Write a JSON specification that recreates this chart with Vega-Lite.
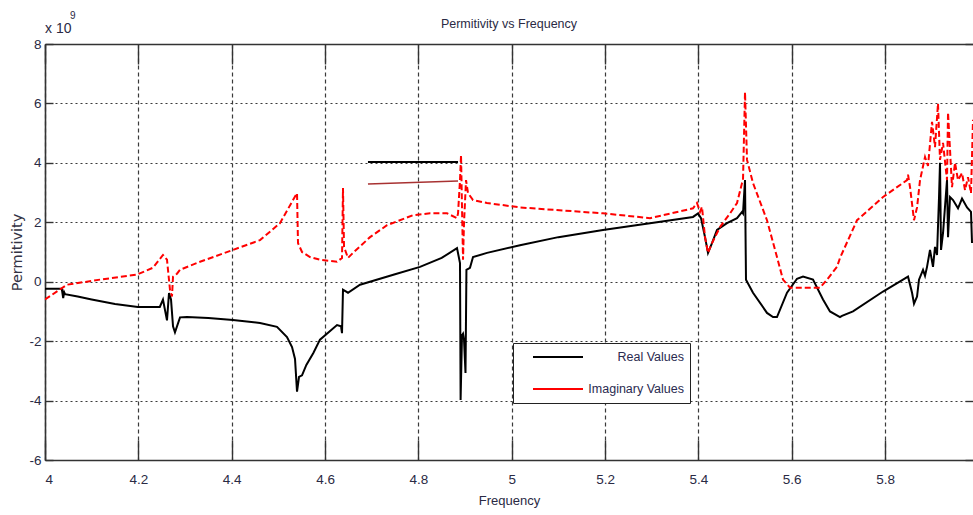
{
  "$schema": "https://vega.github.io/schema/vega-lite/v6.json",
  "width": 928,
  "height": 416,
  "autosize": {"type": "none"},
  "padding": {"left": 45, "top": 44, "right": 0, "bottom": 55},
  "background": "white",
  "title": {"text": "Permitivity vs Frequency", "anchor": "middle", "fontSize": 12.5, "font": "Liberation Sans", "fontWeight": "normal", "color": "#2a2a44", "offset": -19},
  "config": {
    "view": {"stroke": null},
    "font": "Liberation Sans",
    "axis": {
      "domainColor": "#333333", "domainWidth": 1.6, "tickColor": "#333333", "tickWidth": 1.4,
      "gridColor": "#3a3a3a", "gridOpacity": 1, "gridWidth": 1.2,
      "labelFont": "Liberation Sans",
      "labelFontSize": 13.5, "labelColor": "#2a2a44",
      "titleFont": "Liberation Sans",
      "titleFontSize": 13, "titleFontWeight": "normal", "titleColor": "#2a2a44"
    }
  },
  "datasets": {
    "perm": [
      {"f": 4.000, "v": -0.24, "s": "Real Values"},
      {"f": 4.036, "v": -0.24, "s": "Real Values"},
      {"f": 4.039, "v": -0.55, "s": "Real Values"},
      {"f": 4.041, "v": -0.35, "s": "Real Values"},
      {"f": 4.043, "v": -0.42, "s": "Real Values"},
      {"f": 4.070, "v": -0.5, "s": "Real Values"},
      {"f": 4.100, "v": -0.6, "s": "Real Values"},
      {"f": 4.150, "v": -0.75, "s": "Real Values"},
      {"f": 4.199, "v": -0.85, "s": "Real Values"},
      {"f": 4.246, "v": -0.85, "s": "Real Values"},
      {"f": 4.2528, "v": -0.6, "s": "Real Values"},
      {"f": 4.2614, "v": -1.3, "s": "Real Values"},
      {"f": 4.2657, "v": -0.38, "s": "Real Values"},
      {"f": 4.2700, "v": -0.6, "s": "Real Values"},
      {"f": 4.2743, "v": -1.5, "s": "Real Values"},
      {"f": 4.2785, "v": -1.7, "s": "Real Values"},
      {"f": 4.2893, "v": -1.2, "s": "Real Values"},
      {"f": 4.3043, "v": -1.19, "s": "Real Values"},
      {"f": 4.3500, "v": -1.22, "s": "Real Values"},
      {"f": 4.4028, "v": -1.29, "s": "Real Values"},
      {"f": 4.4607, "v": -1.39, "s": "Real Values"},
      {"f": 4.4971, "v": -1.52, "s": "Real Values"},
      {"f": 4.5185, "v": -1.86, "s": "Real Values"},
      {"f": 4.5293, "v": -2.2, "s": "Real Values"},
      {"f": 4.5357, "v": -2.6, "s": "Real Values"},
      {"f": 4.5400, "v": -3.7, "s": "Real Values"},
      {"f": 4.5443, "v": -3.2, "s": "Real Values"},
      {"f": 4.5507, "v": -3.15, "s": "Real Values"},
      {"f": 4.5600, "v": -2.8, "s": "Real Values"},
      {"f": 4.5750, "v": -2.4, "s": "Real Values"},
      {"f": 4.5892, "v": -1.95, "s": "Real Values"},
      {"f": 4.6257, "v": -1.46, "s": "Real Values"},
      {"f": 4.6343, "v": -1.5, "s": "Real Values"},
      {"f": 4.6364, "v": -1.73, "s": "Real Values"},
      {"f": 4.6385, "v": -0.27, "s": "Real Values"},
      {"f": 4.6492, "v": -0.37, "s": "Real Values"},
      {"f": 4.6750, "v": -0.1, "s": "Real Values"},
      {"f": 4.7500, "v": 0.25, "s": "Real Values"},
      {"f": 4.8035, "v": 0.5, "s": "Real Values"},
      {"f": 4.8500, "v": 0.8, "s": "Real Values"},
      {"f": 4.8828, "v": 1.13, "s": "Real Values"},
      {"f": 4.8892, "v": 0.63, "s": "Real Values"},
      {"f": 4.8905, "v": -3.98, "s": "Real Values"},
      {"f": 4.8935, "v": -1.8, "s": "Real Values"},
      {"f": 4.8957, "v": -1.75, "s": "Real Values"},
      {"f": 4.8978, "v": -1.95, "s": "Real Values"},
      {"f": 4.9010, "v": -3.07, "s": "Real Values"},
      {"f": 4.9030, "v": 0.4, "s": "Real Values"},
      {"f": 4.9106, "v": 0.47, "s": "Real Values"},
      {"f": 4.9171, "v": 0.83, "s": "Real Values"},
      {"f": 4.9471, "v": 0.97, "s": "Real Values"},
      {"f": 5.0178, "v": 1.23, "s": "Real Values"},
      {"f": 5.1000, "v": 1.5, "s": "Real Values"},
      {"f": 5.1956, "v": 1.74, "s": "Real Values"},
      {"f": 5.2963, "v": 1.97, "s": "Real Values"},
      {"f": 5.3885, "v": 2.18, "s": "Real Values"},
      {"f": 5.3992, "v": 2.3, "s": "Real Values"},
      {"f": 5.4056, "v": 2.14, "s": "Real Values"},
      {"f": 5.4142, "v": 1.5, "s": "Real Values"},
      {"f": 5.4206, "v": 0.97, "s": "Real Values"},
      {"f": 5.4292, "v": 1.3, "s": "Real Values"},
      {"f": 5.4399, "v": 1.74, "s": "Real Values"},
      {"f": 5.4613, "v": 1.97, "s": "Real Values"},
      {"f": 5.4828, "v": 2.14, "s": "Real Values"},
      {"f": 5.4935, "v": 2.35, "s": "Real Values"},
      {"f": 5.4956, "v": 2.3, "s": "Real Values"},
      {"f": 5.4999, "v": 3.42, "s": "Real Values"},
      {"f": 5.5020, "v": 0.07, "s": "Real Values"},
      {"f": 5.5170, "v": -0.37, "s": "Real Values"},
      {"f": 5.5470, "v": -1.05, "s": "Real Values"},
      {"f": 5.5599, "v": -1.19, "s": "Real Values"},
      {"f": 5.5684, "v": -1.19, "s": "Real Values"},
      {"f": 5.5899, "v": -0.37, "s": "Real Values"},
      {"f": 5.6113, "v": 0.1, "s": "Real Values"},
      {"f": 5.6242, "v": 0.17, "s": "Real Values"},
      {"f": 5.6456, "v": 0.07, "s": "Real Values"},
      {"f": 5.6670, "v": -0.6, "s": "Real Values"},
      {"f": 5.6820, "v": -1.0, "s": "Real Values"},
      {"f": 5.7034, "v": -1.19, "s": "Real Values"},
      {"f": 5.7077, "v": -1.15, "s": "Real Values"},
      {"f": 5.7313, "v": -1.0, "s": "Real Values"},
      {"f": 5.7956, "v": -0.33, "s": "Real Values"},
      {"f": 5.8384, "v": 0.07, "s": "Real Values"},
      {"f": 5.8492, "v": 0.17, "s": "Real Values"},
      {"f": 5.8578, "v": -0.37, "s": "Real Values"},
      {"f": 5.8620, "v": -0.74, "s": "Real Values"},
      {"f": 5.8685, "v": -0.5, "s": "Real Values"},
      {"f": 5.8727, "v": 0.07, "s": "Real Values"},
      {"f": 5.8813, "v": 0.4, "s": "Real Values"},
      {"f": 5.8856, "v": 0.2, "s": "Real Values"},
      {"f": 5.8899, "v": 0.5, "s": "Real Values"},
      {"f": 5.8963, "v": 1.07, "s": "Real Values"},
      {"f": 5.9027, "v": 0.5, "s": "Real Values"},
      {"f": 5.9070, "v": 1.17, "s": "Real Values"},
      {"f": 5.9113, "v": 0.9, "s": "Real Values"},
      {"f": 5.9156, "v": 2.85, "s": "Real Values"},
      {"f": 5.9177, "v": 4.0, "s": "Real Values"},
      {"f": 5.9199, "v": 1.07, "s": "Real Values"},
      {"f": 5.9242, "v": 1.64, "s": "Real Values"},
      {"f": 5.9327, "v": 3.42, "s": "Real Values"},
      {"f": 5.9349, "v": 1.5, "s": "Real Values"},
      {"f": 5.9392, "v": 2.85, "s": "Real Values"},
      {"f": 5.9456, "v": 2.75, "s": "Real Values"},
      {"f": 5.9563, "v": 2.47, "s": "Real Values"},
      {"f": 5.9649, "v": 2.8, "s": "Real Values"},
      {"f": 5.9756, "v": 2.5, "s": "Real Values"},
      {"f": 5.9841, "v": 2.35, "s": "Real Values"},
      {"f": 5.9863, "v": 1.3, "s": "Real Values"},

      {"f": 4.000, "v": -0.6, "s": "Imaginary Values"},
      {"f": 4.0471, "v": -0.1, "s": "Imaginary Values"},
      {"f": 4.1178, "v": 0.07, "s": "Imaginary Values"},
      {"f": 4.1971, "v": 0.24, "s": "Imaginary Values"},
      {"f": 4.2314, "v": 0.47, "s": "Imaginary Values"},
      {"f": 4.2528, "v": 0.9, "s": "Imaginary Values"},
      {"f": 4.2614, "v": 0.74, "s": "Imaginary Values"},
      {"f": 4.2678, "v": -0.27, "s": "Imaginary Values"},
      {"f": 4.2721, "v": -0.5, "s": "Imaginary Values"},
      {"f": 4.2743, "v": 0.17, "s": "Imaginary Values"},
      {"f": 4.2828, "v": 0.27, "s": "Imaginary Values"},
      {"f": 4.2893, "v": 0.4, "s": "Imaginary Values"},
      {"f": 4.3321, "v": 0.67, "s": "Imaginary Values"},
      {"f": 4.4028, "v": 1.07, "s": "Imaginary Values"},
      {"f": 4.4607, "v": 1.4, "s": "Imaginary Values"},
      {"f": 4.5035, "v": 1.97, "s": "Imaginary Values"},
      {"f": 4.5314, "v": 2.75, "s": "Imaginary Values"},
      {"f": 4.5400, "v": 2.98, "s": "Imaginary Values"},
      {"f": 4.5421, "v": 1.3, "s": "Imaginary Values"},
      {"f": 4.5507, "v": 1.0, "s": "Imaginary Values"},
      {"f": 4.5678, "v": 0.83, "s": "Imaginary Values"},
      {"f": 4.5892, "v": 0.74, "s": "Imaginary Values"},
      {"f": 4.6257, "v": 0.67, "s": "Imaginary Values"},
      {"f": 4.6364, "v": 0.8, "s": "Imaginary Values"},
      {"f": 4.6385, "v": 3.15, "s": "Imaginary Values"},
      {"f": 4.6407, "v": 1.17, "s": "Imaginary Values"},
      {"f": 4.6492, "v": 0.8, "s": "Imaginary Values"},
      {"f": 4.6600, "v": 0.97, "s": "Imaginary Values"},
      {"f": 4.6964, "v": 1.5, "s": "Imaginary Values"},
      {"f": 4.7328, "v": 1.9, "s": "Imaginary Values"},
      {"f": 4.7885, "v": 2.24, "s": "Imaginary Values"},
      {"f": 4.8249, "v": 2.3, "s": "Imaginary Values"},
      {"f": 4.8614, "v": 2.3, "s": "Imaginary Values"},
      {"f": 4.8828, "v": 2.14, "s": "Imaginary Values"},
      {"f": 4.8850, "v": 2.3, "s": "Imaginary Values"},
      {"f": 4.8892, "v": 3.42, "s": "Imaginary Values"},
      {"f": 4.8914, "v": 4.26, "s": "Imaginary Values"},
      {"f": 4.8935, "v": 2.5, "s": "Imaginary Values"},
      {"f": 4.8957, "v": 0.74, "s": "Imaginary Values"},
      {"f": 4.8978, "v": 1.97, "s": "Imaginary Values"},
      {"f": 4.9021, "v": 3.42, "s": "Imaginary Values"},
      {"f": 4.9064, "v": 2.98, "s": "Imaginary Values"},
      {"f": 4.9171, "v": 2.75, "s": "Imaginary Values"},
      {"f": 4.9471, "v": 2.65, "s": "Imaginary Values"},
      {"f": 5.0178, "v": 2.5, "s": "Imaginary Values"},
      {"f": 5.1956, "v": 2.3, "s": "Imaginary Values"},
      {"f": 5.2963, "v": 2.14, "s": "Imaginary Values"},
      {"f": 5.3885, "v": 2.47, "s": "Imaginary Values"},
      {"f": 5.3970, "v": 2.65, "s": "Imaginary Values"},
      {"f": 5.4035, "v": 2.35, "s": "Imaginary Values"},
      {"f": 5.4077, "v": 2.52, "s": "Imaginary Values"},
      {"f": 5.4142, "v": 1.5, "s": "Imaginary Values"},
      {"f": 5.4206, "v": 0.97, "s": "Imaginary Values"},
      {"f": 5.4292, "v": 1.3, "s": "Imaginary Values"},
      {"f": 5.4463, "v": 1.84, "s": "Imaginary Values"},
      {"f": 5.4678, "v": 2.3, "s": "Imaginary Values"},
      {"f": 5.4828, "v": 2.65, "s": "Imaginary Values"},
      {"f": 5.4935, "v": 3.32, "s": "Imaginary Values"},
      {"f": 5.4956, "v": 3.42, "s": "Imaginary Values"},
      {"f": 5.4999, "v": 6.38, "s": "Imaginary Values"},
      {"f": 5.5042, "v": 4.1, "s": "Imaginary Values"},
      {"f": 5.5170, "v": 3.32, "s": "Imaginary Values"},
      {"f": 5.5470, "v": 2.07, "s": "Imaginary Values"},
      {"f": 5.5684, "v": 0.83, "s": "Imaginary Values"},
      {"f": 5.5813, "v": 0.07, "s": "Imaginary Values"},
      {"f": 5.5963, "v": -0.2, "s": "Imaginary Values"},
      {"f": 5.6606, "v": -0.2, "s": "Imaginary Values"},
      {"f": 5.6756, "v": 0.07, "s": "Imaginary Values"},
      {"f": 5.6970, "v": 0.5, "s": "Imaginary Values"},
      {"f": 5.7034, "v": 0.8, "s": "Imaginary Values"},
      {"f": 5.7399, "v": 2.07, "s": "Imaginary Values"},
      {"f": 5.7956, "v": 2.85, "s": "Imaginary Values"},
      {"f": 5.8470, "v": 3.42, "s": "Imaginary Values"},
      {"f": 5.8492, "v": 3.6, "s": "Imaginary Values"},
      {"f": 5.8535, "v": 3.18, "s": "Imaginary Values"},
      {"f": 5.8620, "v": 2.07, "s": "Imaginary Values"},
      {"f": 5.8685, "v": 2.5, "s": "Imaginary Values"},
      {"f": 5.8749, "v": 3.42, "s": "Imaginary Values"},
      {"f": 5.8856, "v": 4.2, "s": "Imaginary Values"},
      {"f": 5.8920, "v": 3.9, "s": "Imaginary Values"},
      {"f": 5.9006, "v": 5.38, "s": "Imaginary Values"},
      {"f": 5.9070, "v": 4.53, "s": "Imaginary Values"},
      {"f": 5.9134, "v": 6.0, "s": "Imaginary Values"},
      {"f": 5.9177, "v": 4.1, "s": "Imaginary Values"},
      {"f": 5.9242, "v": 4.67, "s": "Imaginary Values"},
      {"f": 5.9327, "v": 3.42, "s": "Imaginary Values"},
      {"f": 5.9349, "v": 5.7, "s": "Imaginary Values"},
      {"f": 5.9434, "v": 3.18, "s": "Imaginary Values"},
      {"f": 5.9499, "v": 4.0, "s": "Imaginary Values"},
      {"f": 5.9563, "v": 3.42, "s": "Imaginary Values"},
      {"f": 5.9649, "v": 3.66, "s": "Imaginary Values"},
      {"f": 5.9713, "v": 3.08, "s": "Imaginary Values"},
      {"f": 5.9777, "v": 3.52, "s": "Imaginary Values"},
      {"f": 5.9841, "v": 2.98, "s": "Imaginary Values"},
      {"f": 5.9884, "v": 5.45, "s": "Imaginary Values"}
    ],
    "seg1": [{"f": 4.692, "v": 4.03}, {"f": 4.885, "v": 4.03}],
    "seg2": [{"f": 4.692, "v": 3.29}, {"f": 4.885, "v": 3.39}],
    "note": [{"f": 4.0, "v": 8, "t": "x 10"}],
    "sup": [{"f": 4.0, "v": 8, "t": "9"}]
  },
  "layer": [
    {
      "data": {"name": "perm"},
      "transform": [{"filter": "datum.s === 'Real Values'"}],
      "mark": {"type": "line", "strokeWidth": 2, "clip": true},
      "encoding": {
        "x": {"field": "f", "type": "quantitative",
          "scale": {"domain": [4, 5.9884], "nice": false, "zero": false},
          "axis": {"orient": "bottom", "values": [4, 4.2, 4.4, 4.6, 4.8, 5, 5.2, 5.4, 5.6, 5.8], "labelExpr": "'' + datum.value",
            "grid": true, "gridDash": [4, 3], "tickSize": -20, "labelPadding": 32, "title": "Frequency", "titlePadding": 9}},
        "y": {"field": "v", "type": "quantitative",
          "scale": {"domain": [-6, 8], "nice": false, "zero": false},
          "axis": {"orient": "left", "values": [-6, -4, -2, 0, 2, 4, 6, 8], "labelExpr": "'' + datum.value",
            "grid": true, "gridDash": [2, 3], "tickSize": -8, "labelPadding": 12,
            "title": "Permitivity", "titleFont": "DejaVu Sans", "titleFontSize": 14.5, "titlePadding": 4, "titleColor": "#333344"}},
        "color": {"field": "s", "type": "nominal",
          "scale": {"domain": ["Real Values", "Imaginary Values"], "range": ["#000000", "#ff0000"]},
          "legend": {"orient": "none", "legendX": 468, "legendY": 299, "title": null,
            "symbolType": "stroke", "symbolSize": 2500, "symbolStrokeWidth": 2,
            "clipHeight": 16, "rowPadding": 16, "padding": 6, "symbolOffset": 13,
            "labelOffset": 100, "labelAlign": "right", "labelFontSize": 12.5, "labelColor": "#2a2a50",
            "labelLimit": 200, "strokeColor": "#222222", "fillColor": "white"}}
      }
    },
    {
      "data": {"name": "perm"},
      "transform": [{"filter": "datum.s === 'Imaginary Values'"}],
      "mark": {"type": "line", "strokeWidth": 2, "strokeDash": [6, 3], "clip": true},
      "encoding": {
        "x": {"field": "f", "type": "quantitative", "axis": null},
        "y": {"field": "v", "type": "quantitative", "axis": null},
        "color": {"field": "s", "type": "nominal"}
      }
    },
    {
      "data": {"name": "seg1"},
      "mark": {"type": "line", "color": "#000000", "strokeWidth": 2},
      "encoding": {
        "x": {"field": "f", "type": "quantitative", "axis": null},
        "y": {"field": "v", "type": "quantitative", "axis": null}
      }
    },
    {
      "data": {"name": "seg2"},
      "mark": {"type": "line", "color": "#a83232", "strokeWidth": 1.6},
      "encoding": {
        "x": {"field": "f", "type": "quantitative", "axis": null},
        "y": {"field": "v", "type": "quantitative", "axis": null}
      }
    },
    {
      "data": {"name": "note"},
      "mark": {"type": "text", "align": "left", "baseline": "alphabetic", "dy": -11, "fontSize": 14, "color": "#2a2a44"},
      "encoding": {
        "x": {"field": "f", "type": "quantitative",
          "axis": {"orient": "top", "values": [4, 4.2, 4.4, 4.6, 4.8, 5, 5.2, 5.4, 5.6, 5.8], "labels": false, "grid": false, "tickSize": -20, "title": null, "domain": true}},
        "y": {"field": "v", "type": "quantitative",
          "axis": {"orient": "right", "values": [-6, -4, -2, 0, 2, 4, 6, 8], "labels": false, "grid": false, "tickSize": -8, "title": null, "domain": false}},
        "text": {"field": "t"}
      }
    },
    {
      "data": {"name": "sup"},
      "mark": {"type": "text", "align": "left", "baseline": "alphabetic", "dx": 25, "dy": -25, "fontSize": 10, "color": "#2a2a44"},
      "encoding": {
        "x": {"field": "f", "type": "quantitative", "axis": null},
        "y": {"field": "v", "type": "quantitative", "axis": null},
        "text": {"field": "t"}
      }
    }
  ]
}
